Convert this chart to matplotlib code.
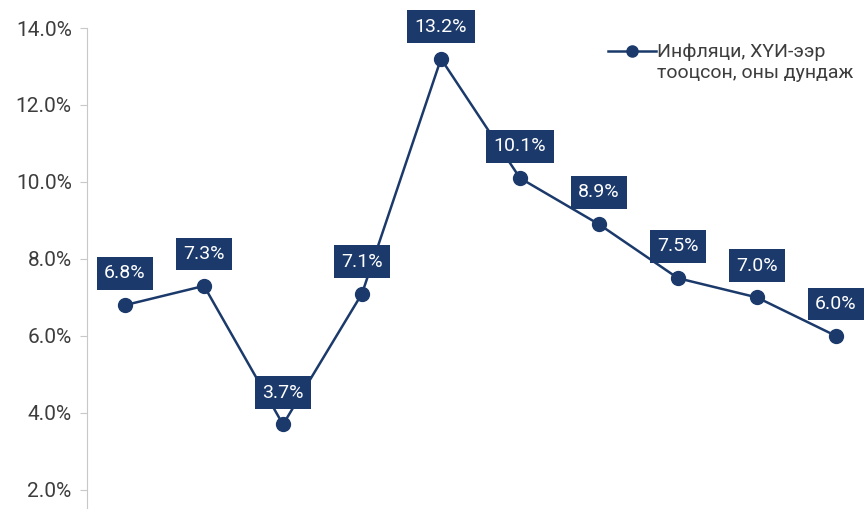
import matplotlib
matplotlib.use("Agg")
import matplotlib.pyplot as plt

plt.rcParams['font.family'] = ['Roboto', 'DejaVu Sans']

values = [6.8, 7.3, 3.7, 7.1, 13.2, 10.1, 8.9, 7.5, 7.0, 6.0]
labels = ["6.8%", "7.3%", "3.7%", "7.1%", "13.2%", "10.1%", "8.9%", "7.5%", "7.0%", "6.0%"]
yticks = [2, 4, 6, 8, 10, 12, 14]
ytick_labels = ["2.0%", "4.0%", "6.0%", "8.0%", "10.0%", "12.0%", "14.0%"]
series_line1 = "Инфляци, ХҮИ-ээр"
series_line2 = "тооцсон, оны дундаж"

navy = "#1b3a6b"
txt = "#3d3d3d"
W, H = 865, 517
fig = plt.figure(figsize=(W / 100, H / 100), dpi=100)
ax = fig.add_axes([87 / W, 9 / H, (W - 87) / W, 480 / H])

x = list(range(len(values)))
ax.plot(x, values, color=navy, lw=1.8, marker="o", ms=10, label=series_line1)

for xi, v, lab in zip(x, values, labels):
    ax.annotate(lab, (xi, v), xytext=(0, 23), textcoords="offset points",
                ha="center", va="center", color="white", fontsize=14,
                bbox=dict(boxstyle="square,pad=0.38", fc=navy, ec="none"))

ax.set_xlim(-38 / 79, (W - 125) / 79)
ax.set_ylim(1.53, 14.0)
ax.set_yticks(yticks)
ax.set_yticklabels(ytick_labels, fontsize=15, color=txt)
ax.set_xticks([])
for s in ["top", "right", "bottom"]:
    ax.spines[s].set_visible(False)
ax.spines["left"].set_color("#c8c8c8")
ax.tick_params(axis="y", colors="#c8c8c8", labelcolor=txt, length=5, pad=6)

fs_leg = 14
leg = ax.legend(loc="upper left", bbox_to_anchor=((608 - 87) / (W - 87), 0.968),
                frameon=False, fontsize=fs_leg, handlelength=48 / (fs_leg * 100 / 72),
                handletextpad=0.05, labelcolor=txt, borderpad=0, borderaxespad=0,
                markerscale=0.8)

fig.canvas.draw()
renderer = fig.canvas.get_renderer()
t1 = leg.get_texts()[0]
bb = t1.get_window_extent(renderer)
_, _, d = renderer.get_text_width_height_descent(series_line1, t1.get_fontproperties(), ismath=False)
baseline1 = bb.y0 + d
inv = fig.transFigure.inverted()
x0, y2 = inv.transform((bb.x0, baseline1 - 21))
fig.text(x0, y2, series_line2, ha="left", va="baseline", fontsize=fs_leg, color=txt)

fig.savefig("out.png", dpi=100)
